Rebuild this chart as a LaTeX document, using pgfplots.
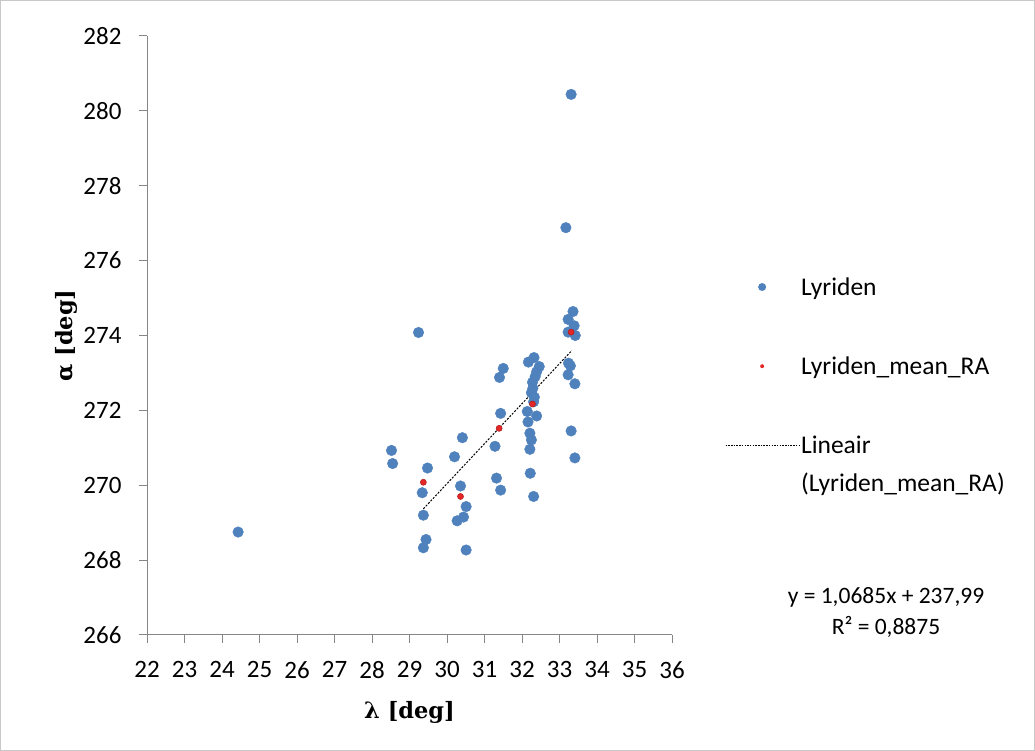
\documentclass[border=0pt]{standalone}
\usepackage{pgfplots}
\pgfplotsset{compat=1.18}
\usepackage{fontspec}
\setmainfont{Carlito}
\newfontfamily\serifb{DejaVu Serif}
\definecolor{lyblue}{RGB}{79,129,189}
\definecolor{lyred}{RGB}{228,38,38}
\definecolor{lyredd}{RGB}{180,30,30}
\definecolor{axgray}{RGB}{134,134,134}
\definecolor{framegray}{RGB}{200,200,200}
\begin{document}
\begin{tikzpicture}
\draw[framegray, line width=1pt] (0.5pt,0.5pt) rectangle (1034.5pt,750.5pt);
\begin{axis}[
  at={(147pt,116pt)}, anchor=south west, scale only axis,
  width=525pt, height=599pt,
  xmin=22, xmax=36, ymin=266, ymax=282,
  xtick={22,...,36}, ytick={266,268,...,282},
  axis x line*=bottom, axis y line*=left,
  axis line style={axgray, line width=1pt, -},
  tick style={axgray, line width=1pt},
  tick align=outside, major tick length=8pt,
  /pgf/number format/assume math mode=true,
  tick label style={font=\fontsize{25}{30}\selectfont, black},
  xticklabel style={yshift=-15pt},
  yticklabel style={xshift=-14pt},
  xlabel={\serifb\bfseries λ [deg]},
  ylabel={\serifb\bfseries α [deg]},
  label style={font=\fontsize{22.5}{27}\selectfont},
  xlabel style={at={(axis description cs:0.5,0)}, anchor=north, yshift=-63pt},
  ylabel style={at={(axis description cs:0,0.5)}, anchor=south, yshift=66pt},
  legend style={at={(1.0952,0.604)}, anchor=north west, draw=none, fill=none,
    font=\fontsize{25.5}{30}\selectfont, row sep=56pt},
  legend cell align=left,
]
\addplot[only marks, mark=*, mark size=5.3pt, draw=none, mark options={fill=lyblue, draw=lyblue},
  legend image code/.code={\draw[draw=none] (0pt,0pt) -- (73pt,0pt); \fill[lyblue] (36.5pt,0pt) circle (4pt);}]
coordinates {
(24.43,268.75) (28.52,270.93) (28.55,270.58) (29.24,274.08) (29.48,270.46)
(29.34,269.80) (29.37,269.20) (29.44,268.55) (29.37,268.33) (30.20,270.76)
(30.41,271.27) (30.36,269.98) (30.51,269.43) (30.44,269.15) (30.27,269.05)
(30.51,268.27) (31.28,271.04) (31.32,270.19) (31.43,269.87) (31.43,271.92)
(31.40,272.88) (31.50,273.12) (32.14,271.97) (32.16,271.69) (32.21,271.39)
(32.25,271.21) (32.21,270.96) (32.22,270.32) (32.31,269.70) (32.39,271.85)
(32.31,272.23) (32.25,272.47) (32.29,272.59) (32.28,272.75) (32.33,272.35)
(32.35,272.90) (32.39,273.03) (32.46,273.17) (32.17,273.29) (32.32,273.41)
(33.17,276.88) (33.31,280.44) (33.36,274.64) (33.23,274.43) (33.39,274.26)
(33.23,274.09) (33.42,274.00) (33.24,273.26) (33.29,273.19) (33.23,272.95)
(33.41,272.71) (33.31,271.45) (33.41,270.73)
};
\addlegendentry{Lyriden}
\addplot[only marks, mark=*, mark size=3pt, draw=none, mark options={fill=lyred, draw=lyredd, line width=0.6pt},
  legend image code/.code={\draw[draw=none] (0pt,0pt) -- (73pt,0pt); \fill[lyred] (36.5pt,0pt) circle (2pt);}]
coordinates {
(29.37,270.08) (30.36,269.70) (31.39,271.52) (32.28,272.17) (33.31,274.09)
};
\addlegendentry{Lyriden\_mean\_RA}
\addplot[black, line width=1pt, dash pattern=on 2pt off 1.5pt,
  legend image code/.code={\draw[black, line width=0.9pt, dash pattern=on 1.5pt off 1.2pt] (0pt,0pt) -- (73pt,0pt);}]
coordinates {(29.37,269.37) (33.33,273.60)};
\addlegendentry{\rlap{\raisebox{-38pt}[0pt][0pt]{(Lyriden\_mean\_RA)}}Lineair}
\end{axis}
\node[align=center, font=\fontsize{23.5}{31}\selectfont] at (886pt,139pt) {y = 1,0685x + 237,99\\R² = 0,8875};
\end{tikzpicture}
\end{document}
